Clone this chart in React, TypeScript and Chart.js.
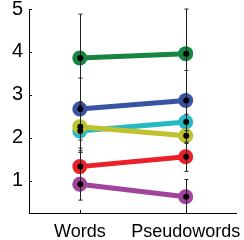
import React, { useEffect, useRef } from "react";
import { Chart, registerables } from "chart.js";
Chart.register(...registerables);

const categories = ["Words", "Pseudowords"];
const seriesNames = ["Series 1", "Series 2", "Series 3", "Series 4", "Series 5", "Series 6"];
const seriesColors = ["#17843f", "#3a53a4", "#25b9c4", "#c0c12f", "#ec2028", "#a1449b"];
const wordsValues = [3.86, 2.67, 2.16, 2.26, 1.33, 0.92];
const pseudowordsValues = [3.96, 2.87, 2.37, 2.05, 1.56, 0.63];
const wordsErrors = [1.02, 0.72, 0.5, 0.5, 0.37, 0.37];
const pseudowordsErrors = [1.04, 0.7, 0.5, 0.5, 0.34, 0.4];
const yTicks = [1, 2, 3, 4, 5];

const FONT = "'Liberation Sans', Arial, Helvetica, sans-serif";

const overlayPlugin = {
  id: "overlay",
  afterDatasetsDraw(chart: any) {
    const { ctx, chartArea, scales } = chart;
    const xs = scales.x;
    const ys = scales.y;
    ctx.save();
    ctx.beginPath();
    ctx.rect(chartArea.left, chartArea.top - 1, chartArea.right - chartArea.left, chartArea.bottom - chartArea.top + 1);
    ctx.clip();
    ctx.strokeStyle = "#222";
    ctx.lineWidth = 1;
    const sets = [wordsValues, pseudowordsValues];
    const errs = [wordsErrors, pseudowordsErrors];
    for (let s = 0; s < seriesNames.length; s++) {
      for (let c = 0; c < categories.length; c++) {
        const v = sets[c][s];
        const e = errs[c][s];
        const px = Math.round(xs.getPixelForValue(c)) + 0.5;
        const yTop = ys.getPixelForValue(v + e);
        const yBot = ys.getPixelForValue(v - e);
        ctx.beginPath();
        ctx.moveTo(px, yTop);
        ctx.lineTo(px, yBot);
        ctx.moveTo(px - 2, yTop);
        ctx.lineTo(px + 2, yTop);
        ctx.moveTo(px - 2, yBot);
        ctx.lineTo(px + 2, yBot);
        ctx.stroke();
      }
    }
    ctx.fillStyle = "#000";
    for (let s = 0; s < seriesNames.length; s++) {
      for (let c = 0; c < categories.length; c++) {
        const v = sets[c][s];
        const px = xs.getPixelForValue(c) + 0.5;
        const py = ys.getPixelForValue(v);
        ctx.beginPath();
        ctx.arc(px, py, 3, 0, Math.PI * 2);
        ctx.fill();
      }
    }
    ctx.restore();
    ctx.save();
    ctx.strokeStyle = "#000";
    ctx.lineWidth = 1;
    for (const t of yTicks) {
      const py = Math.round(ys.getPixelForValue(t)) + 0.5;
      ctx.beginPath();
      ctx.moveTo(chartArea.left, py);
      ctx.lineTo(chartArea.left + 3, py);
      ctx.stroke();
    }
    for (let c = 0; c < categories.length; c++) {
      const px = Math.round(xs.getPixelForValue(c)) + 0.5;
      ctx.beginPath();
      ctx.moveTo(px, chartArea.bottom);
      ctx.lineTo(px, chartArea.bottom - 3);
      ctx.stroke();
    }
    ctx.restore();
  },
};

export default function App() {
  const ref = useRef<HTMLCanvasElement | null>(null);
  useEffect(() => {
    if (!ref.current) return;
    const datasets = seriesNames.map((name, i) => ({
      label: name,
      data: [
        { x: 0, y: wordsValues[i] },
        { x: 1, y: pseudowordsValues[i] },
      ],
      borderColor: seriesColors[i],
      backgroundColor: seriesColors[i],
      pointBackgroundColor: seriesColors[i],
      pointBorderColor: seriesColors[i],
      borderWidth: 5,
      pointRadius: 7.5,
      pointBorderWidth: 0,
      order: -i,
    }));
    const chart = new Chart(ref.current, {
      type: "line",
      data: { datasets },
      plugins: [overlayPlugin],
      options: {
        responsive: false,
        animation: false,
        layout: { padding: { top: 9, right: 3, left: 0, bottom: 0 } },
        plugins: { legend: { display: false }, tooltip: { enabled: false } },
        scales: {
          x: {
            type: "linear",
            min: -0.48,
            max: 1.48,
            grid: { display: false, drawTicks: false },
            border: { display: true, color: "#000", width: 1 },
            afterBuildTicks: (scale: any) => {
              scale.ticks = categories.map((_, i) => ({ value: i }));
            },
            afterFit: (scale: any) => {
              scale.height = 27;
              scale.paddingLeft = 0;
              scale.paddingRight = 0;
            },
            ticks: {
              color: "#000",
              padding: 8,
              maxRotation: 0,
              font: { family: FONT, size: 18 },
              callback: (v: any) => categories[v] ?? "",
            },
          },
          y: {
            min: 0.25,
            max: 5,
            grid: { display: false, drawTicks: false },
            border: { display: true, color: "#000", width: 1 },
            afterBuildTicks: (scale: any) => {
              scale.ticks = yTicks.map((v) => ({ value: v }));
            },
            afterFit: (scale: any) => {
              scale.width = 29;
              scale.paddingTop = 0;
              scale.paddingBottom = 0;
            },
            ticks: {
              color: "#000",
              padding: 6,
              font: { family: FONT, size: 20 },
            },
          },
        },
      },
    });
    return () => chart.destroy();
  }, []);
  return (
    <div style={{ position: "fixed", left: 0, top: 0, width: 244, height: 240, background: "#fff" }}>
      <canvas ref={ref} width={244} height={240} style={{ display: "block" }} />
    </div>
  );
}
